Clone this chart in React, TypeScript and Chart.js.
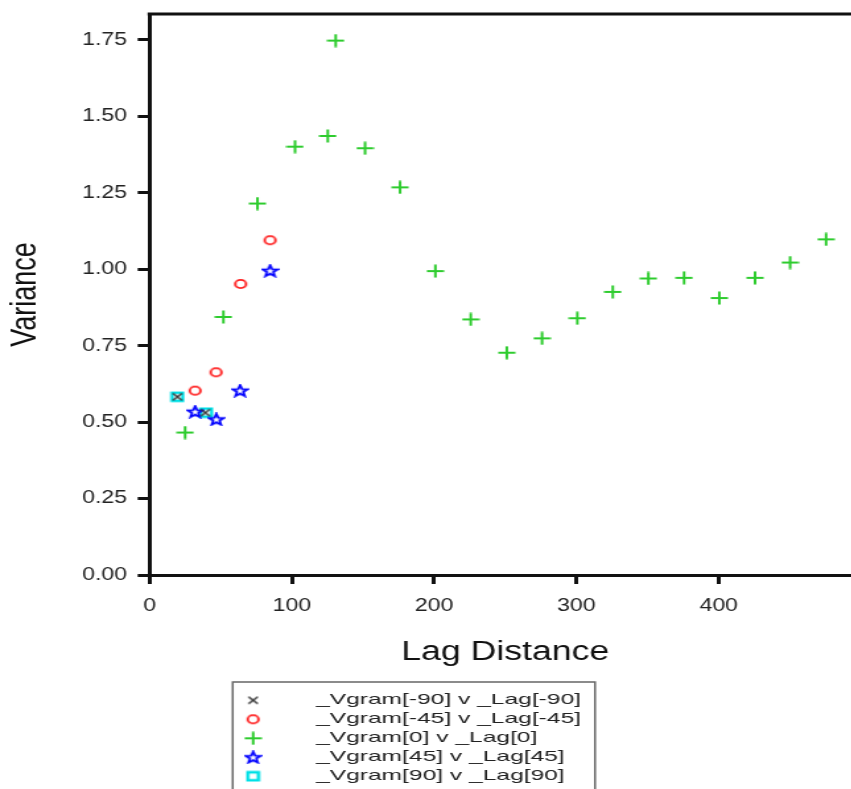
import { useEffect, useRef } from 'react';
import { Chart, registerables } from 'chart.js';

Chart.register(...registerables);

// ---- data ----
const lagM90 = [19.6, 39.2];
const vgramM90 = [0.583, 0.531];

const lagM45 = [32, 46.7, 64.0, 84.7];
const vgramM45 = [0.603, 0.663, 0.952, 1.095];

const lag0 = [25, 51.9, 75.8, 102.2, 125.2, 130.8, 151.4, 176, 200.8, 225.7, 251, 275.8, 300.6, 325.5, 350.5, 375.6, 400.4, 425.5, 450.1, 475.4];
const vgram0 = [0.466, 0.844, 1.215, 1.401, 1.436, 1.748, 1.396, 1.268, 0.994, 0.836, 0.727, 0.774, 0.84, 0.926, 0.97, 0.972, 0.906, 0.972, 1.022, 1.098];

const lag45 = [32, 46.9, 63.6, 84.7];
const vgram45 = [0.534, 0.509, 0.603, 0.995];

const lag90 = [19.6, 39.8];
const vgram90 = [0.583, 0.531];

const seriesLabels = [
  '_Vgram[-90] v _Lag[-90]',
  '_Vgram[-45] v _Lag[-45]',
  '_Vgram[0] v _Lag[0]',
  '_Vgram[45] v _Lag[45]',
  '_Vgram[90] v _Lag[90]',
];

const xTicks = [0, 100, 200, 300, 400];
const yTicks = [0, 0.25, 0.5, 0.75, 1.0, 1.25, 1.5, 1.75];
const xTitle = 'Lag Distance';
const yTitle = 'Variance';

// ---- presentation ----
const SX = 1.32; // horizontal stretch of the reference picture
const W = 680;
const H = 789;
const FAMILY = '"Liberation Sans", Arial, Helvetica, sans-serif';

function pts(xs: number[], ys: number[]) {
  return xs.map((x, i) => ({ x, y: ys[i] }));
}

function makeCanvas(w: number, h: number, draw: (c: CanvasRenderingContext2D) => void) {
  const c = document.createElement('canvas');
  c.width = w;
  c.height = h;
  const ctx = c.getContext('2d')!;
  draw(ctx);
  return c;
}

function makeMarkers() {
  const cross = makeCanvas(10, 10, (c) => {
    c.strokeStyle = '#333';
    c.lineWidth = 1.5;
    c.beginPath();
    c.moveTo(1.5, 1.5); c.lineTo(8.5, 8.5);
    c.moveTo(8.5, 1.5); c.lineTo(1.5, 8.5);
    c.stroke();
  });
  const circle = makeCanvas(12, 12, (c) => {
    c.strokeStyle = '#ff2020';
    c.lineWidth = 1.9;
    c.beginPath();
    c.arc(6, 6, 4.1, 0, Math.PI * 2);
    c.stroke();
  });
  const plus = makeCanvas(14, 14, (c) => {
    c.strokeStyle = '#2ecc2e';
    c.lineWidth = 2;
    c.beginPath();
    c.moveTo(0.5, 7); c.lineTo(13.5, 7);
    c.moveTo(7, 0.5); c.lineTo(7, 13.5);
    c.stroke();
  });
  const star = makeCanvas(14, 14, (c) => {
    c.strokeStyle = '#0000ff';
    c.lineWidth = 1.8;
    c.lineJoin = 'miter';
    c.beginPath();
    const cx = 7, cy = 7.4, ro = 6, ri = 2.5;
    for (let i = 0; i < 10; i++) {
      const r = i % 2 === 0 ? ro : ri;
      const a = -Math.PI / 2 + (i * Math.PI) / 5;
      const px = cx + r * Math.cos(a);
      const py = cy + r * Math.sin(a);
      if (i === 0) c.moveTo(px, py); else c.lineTo(px, py);
    }
    c.closePath();
    c.stroke();
  });
  const square = makeCanvas(12, 12, (c) => {
    c.strokeStyle = '#00e0e6';
    c.lineWidth = 2.6;
    c.strokeRect(2, 2, 8, 8);
  });
  return [cross, circle, plus, star, square];
}

export default function App() {
  const ref = useRef<HTMLCanvasElement>(null);

  useEffect(() => {
    const canvas = ref.current!;
    const markers = makeMarkers();

    const framePlugin = {
      id: 'frameAndLegend',
      afterDraw(chart: any) {
        const { ctx, chartArea } = chart;
        const { left, right, top, bottom } = chartArea;
        ctx.save();
        // top & right frame
        ctx.strokeStyle = '#111';
        ctx.lineWidth = 3;
        ctx.beginPath();
        ctx.moveTo(left - 1.5, top);
        ctx.lineTo(right + 1.5, top);
        ctx.moveTo(right, top);
        ctx.lineTo(right, bottom);
        ctx.stroke();

        // legend box
        const lx = 176.3, ly = 682, lw = 274.5;
        ctx.strokeStyle = '#666';
        ctx.lineWidth = 1.5;
        ctx.strokeRect(lx, ly, lw, 140);
        const rowY = [700.3, 719.3, 738.3, 757.3, 776.3];
        ctx.font = `15px ${FAMILY}`;
        ctx.fillStyle = '#222';
        ctx.textBaseline = 'middle';
        ctx.textAlign = 'left';
        const labels = chart.data.datasets.map((d: any) => d.label as string);
        const k = 200.8 / ctx.measureText(labels[0]).width;
        labels.forEach((t: string, i: number) => {
          const m = markers[i];
          ctx.drawImage(m, 191.7 - m.width / 2, rowY[i] - m.height / 2);
          ctx.save();
          ctx.translate(239.4, rowY[i]);
          ctx.scale(k, 1);
          ctx.fillText(t, 0, 0);
          ctx.restore();
        });
        ctx.restore();
      },
    };

    const mk = (i: number, data: { x: number; y: number }[]) => ({
      label: seriesLabels[i],
      data,
      pointStyle: markers[i] as any,
      pointRadius: 6,
      pointHoverRadius: 6,
      showLine: false,
      borderColor: 'transparent',
      backgroundColor: 'transparent',
    });

    const chart = new Chart(canvas, {
      type: 'scatter',
      data: {
        datasets: [
          mk(0, pts(lagM90, vgramM90)),
          mk(1, pts(lagM45, vgramM45)),
          mk(2, pts(lag0, vgram0)),
          mk(3, pts(lag45, vgram45)),
          mk(4, pts(lag90, vgram90)),
        ],
      },
      options: {
        responsive: false,
        animation: false,
        devicePixelRatio: 1,
        layout: { padding: { top: 14, left: 0, right: W - 652.3, bottom: H - 575 - 94 } },
        plugins: { legend: { display: false }, tooltip: { enabled: false } },
        events: [],
        scales: {
          x: {
            type: 'linear',
            min: 0,
            max: 500,
            afterBuildTicks: (s: any) => { s.ticks = xTicks.map((v) => ({ value: v })); },
            afterFit: (s: any) => { s.height = 94; s.paddingLeft = 0; s.paddingRight = 0; },
            ticks: {
              font: { size: 17.5, family: FAMILY },
              color: '#222',
              padding: 12,
              maxRotation: 0,
              autoSkip: false,
              callback: (v: any) => String(v),
            },
            grid: { display: true, drawOnChartArea: false, drawTicks: true, tickLength: 9, tickWidth: 3, tickColor: '#111' },
            border: { display: true, width: 3, color: '#111' },
            title: { display: true, text: xTitle, font: { size: 27, family: FAMILY }, color: '#111', padding: { top: 0, bottom: 0 } },
          },
          y: {
            type: 'linear',
            min: 0,
            max: 1.835,
            afterBuildTicks: (s: any) => { s.ticks = yTicks.map((v) => ({ value: v })); },
            afterFit: (s: any) => { s.width = 113.3; s.paddingTop = 0; s.paddingBottom = 0; },
            ticks: {
              font: { size: 17.5, family: FAMILY },
              color: '#222',
              padding: 8,
              autoSkip: false,
              callback: (v: any) => Number(v).toFixed(2),
            },
            grid: { display: true, drawOnChartArea: false, drawTicks: true, tickLength: 9, tickWidth: 3, tickColor: '#111' },
            border: { display: true, width: 3, color: '#111' },
            title: { display: true, text: yTitle, font: { size: 27, family: FAMILY }, color: '#111', padding: { top: 3, bottom: 0 } },
          },
        },
      },
      plugins: [framePlugin],
    } as any);

    return () => chart.destroy();
  }, []);

  return (
    <div style={{ position: 'fixed', left: 0, top: 0, width: 851, height: 789, overflow: 'hidden', background: '#fff' }}>
      <div style={{ width: W, height: H, transform: `scaleX(${SX})`, transformOrigin: '0 0' }}>
        <canvas ref={ref} width={W} height={H} style={{ display: 'block', width: W, height: H }} />
      </div>
    </div>
  );
}
